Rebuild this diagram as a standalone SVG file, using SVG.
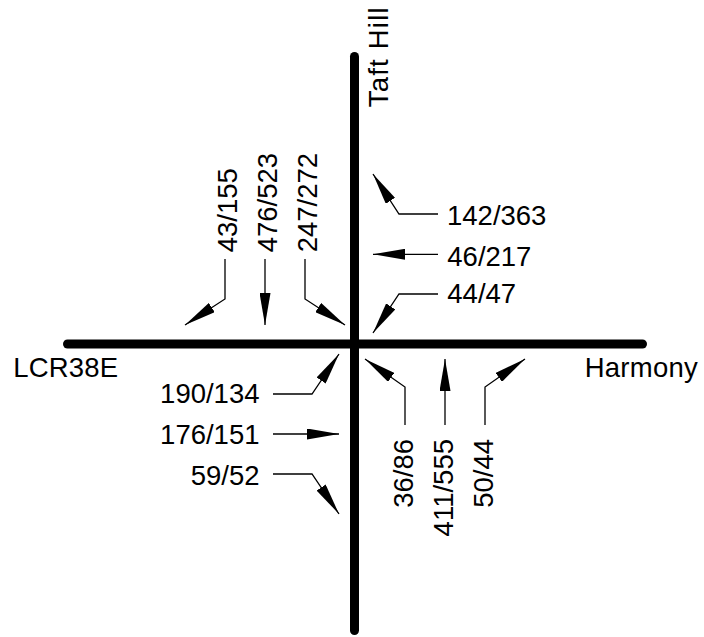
<svg xmlns="http://www.w3.org/2000/svg" width="704" height="637" viewBox="0 0 704 637">
<style>
.road{stroke:#000;stroke-width:9;stroke-linecap:round;fill:none}
.mv{stroke:#000;stroke-width:1.3;fill:none;marker-end:url(#ah)}
text{font-family:"Liberation Sans",Arial,sans-serif;font-size:27.5px;fill:#000}
</style>
<defs>
<marker id="ah" markerUnits="userSpaceOnUse" markerWidth="32" markerHeight="11" viewBox="0 0 32 11" refX="32" refY="5.5" orient="auto">
<path d="M0,0 L32,5.5 L0,11 z" fill="#000"/>
</marker>
</defs>
<rect width="704" height="637" fill="#fff"/>
<g id="road-taft-hill">
<line class="road" x1="354.5" y1="56.5" x2="354.5" y2="630.5"/>
<text transform="translate(388,107.3) rotate(-90)" textLength="100" lengthAdjust="spacing">Taft Hill</text>
</g>
<g id="road-lcr38e-harmony">
<line class="road" x1="67.5" y1="344" x2="642.5" y2="344"/>
<text x="13.2" y="377" textLength="105" lengthAdjust="spacing">LCR38E</text>
<text x="584.7" y="377" textLength="113" lengthAdjust="spacing">Harmony</text>
</g>
<g id="labels">
<g id="sb-labels">
<text transform="translate(237.3,252.3) rotate(-90)">43/155</text>
<text transform="translate(277.3,252.3) rotate(-90)">476/523</text>
<text transform="translate(316.5,252.3) rotate(-90)">247/272</text>
</g>
<g id="wb-labels">
<text x="447" y="225">142/363</text>
<text x="447.3" y="266">46/217</text>
<text x="447.3" y="303">44/47</text>
</g>
<g id="eb-labels">
<text x="259.5" y="403" text-anchor="end">190/134</text>
<text x="259.5" y="444" text-anchor="end">176/151</text>
<text x="259.5" y="485" text-anchor="end">59/52</text>
</g>
<g id="nb-labels">
<text transform="translate(413.4,439) rotate(-90)" text-anchor="end">36/86</text>
<text transform="translate(453,439) rotate(-90)" text-anchor="end">411/555</text>
<text transform="translate(493,439) rotate(-90)" text-anchor="end">50/44</text>
</g>
</g>
<g id="connectors">
<path class="mv" d="M225,259 V299 L185,325"/>
<path class="mv" d="M265,259 V325"/>
<path class="mv" d="M305,259 V299 L345,325"/>
<path class="mv" d="M438,214 H399 L373,174"/>
<path class="mv" d="M438,254.3 H373"/>
<path class="mv" d="M438,294 H399 L373,333"/>
<path class="mv" d="M273,394 H312 L339,354"/>
<path class="mv" d="M273,434 H339"/>
<path class="mv" d="M273,474 H312 L339,514"/>
<path class="mv" d="M405,425 V387 L365,359"/>
<path class="mv" d="M445,425 V359"/>
<path class="mv" d="M485,425 V387 L525,359"/>
</g>
</svg>
